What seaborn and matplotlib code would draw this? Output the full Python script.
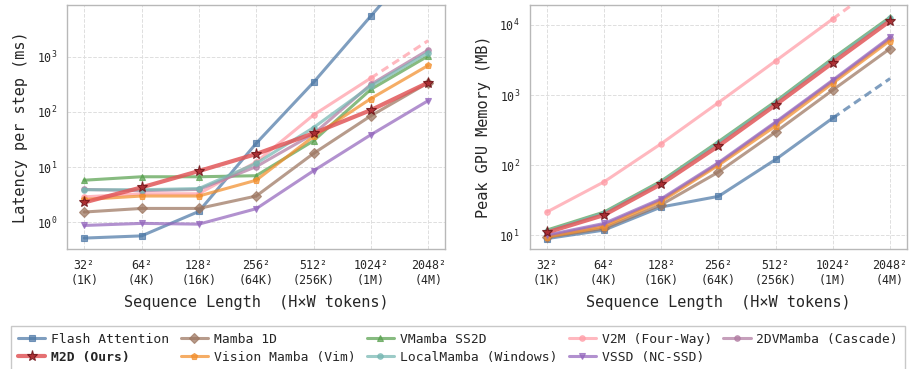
import numpy as np
import pandas as pd
import matplotlib
matplotlib.use("Agg")
import matplotlib.pyplot as plt
import seaborn as sns

# sequence lengths (H = W)
seq_labels = ["32²\n(1K)", "64²\n(4K)", "128²\n(16K)", "256²\n(64K)",
              "512²\n(256K)", "1024²\n(1M)", "2048²\n(4M)"]
xs = list(range(len(seq_labels)))

methods = ["Flash Attention", "Mamba 1D", "VMamba SS2D", "V2M (Four-Way)",
           "2DVMamba (Cascade)", "Vision Mamba (Vim)", "LocalMamba (Windows)",
           "VSSD (NC-SSD)", "M2D (Ours)"]

# latency per step (ms)
lat_flash = [0.52, 0.57, 1.58, 27, 343, 5450, 85000]
lat_mamba1d = [1.54, 1.79, 1.79, 3.0, 17.7, 85, 338]
lat_vmamba = [5.8, 6.7, 6.7, 7.0, 30, 256, 1030]
lat_v2m = [2.9, 3.3, 3.3, 12.4, 88, 410]
lat_2dvmamba = [3.95, 3.75, 3.95, 10.2, 40, 315, 1320]
lat_vim = [2.6, 3.0, 3.0, 5.8, 36, 174, 695]
lat_local = [3.9, 3.9, 4.1, 11.7, 52, 295, 1180]
lat_vssd = [0.88, 0.96, 0.93, 1.77, 8.6, 38.6, 160]
lat_m2d = [2.3, 4.3, 8.5, 17.3, 41, 108, 340]
lat_extrap = {"V2M (Four-Way)": 1950}

# peak GPU memory (MB)
mem_flash = [9.0, 11.9, 25.4, 36, 121, 472]
mem_mamba1d = [9.4, 12.6, 27.4, 80, 298, 1183, 4600]
mem_vmamba = [11.9, 21.5, 59.6, 217, 814, 3350, 12900]
mem_v2m = [21.5, 58, 203, 781, 3070, 12200]
mem_2dvmamba = [9.8, 14.2, 32, 105, 400, 1580, 6400]
mem_vim = [9.5, 13.3, 30.5, 100, 363, 1480, 5980]
mem_local = [11.5, 21, 58, 210, 790, 3250, 12500]
mem_vssd = [10.1, 14.8, 33.3, 109, 414, 1640, 6680]
mem_m2d = [11.0, 19.5, 54, 188, 725, 2900, 11400]
mem_extrap = {"Flash Attention": 1720, "V2M (Four-Way)": 48000}

latency = [lat_flash, lat_mamba1d, lat_vmamba, lat_v2m, lat_2dvmamba,
           lat_vim, lat_local, lat_vssd, lat_m2d]
memory = [mem_flash, mem_mamba1d, mem_vmamba, mem_v2m, mem_2dvmamba,
          mem_vim, mem_local, mem_vssd, mem_m2d]

colors = ["#4e79a7", "#9c755f", "#59a14f", "#ff9da7", "#b07aa1",
          "#f28e2b", "#76b7b2", "#9467bd", "#e15759"]
markers = ["s", "D", "^", "o", "o", "p", "o", "v", "*"]

sns.set_theme(style="whitegrid")
plt.rcParams["font.family"] = ["DejaVu Sans Mono", "DejaVu Sans"]
plt.rcParams["axes.edgecolor"] = "#b8b8b8"
plt.rcParams["grid.color"] = "#dedede"
plt.rcParams["grid.linestyle"] = "--"
plt.rcParams["grid.linewidth"] = 0.7

fig = plt.figure(figsize=(9.09, 3.69), dpi=100)
ax1 = fig.add_axes([0.0737, 0.3252, 0.4163, 0.6604])
ax2 = fig.add_axes([0.5827, 0.3252, 0.4154, 0.6604])


def draw(ax, series, extrap):
    for name, vals, c, m in zip(methods, series, colors, markers):
        ours = name == "M2D (Ours)"
        lw = 3.0 if ours else 2.2
        ms = 8 if ours else (4 if m == "o" else 5)
        mfc = "#a3262b" if ours else c
        mec = "#6e1418" if ours else c
        alpha = 0.85 if ours else 0.72
        z = 6 if ours else 3
        sns.lineplot(x=xs[:len(vals)], y=vals, ax=ax, color=c, marker=m,
                     markersize=ms, markerfacecolor=mfc, markeredgecolor=mec,
                     markeredgewidth=0.8, linewidth=lw, alpha=alpha,
                     label=name, legend=False, zorder=z)
        if name in extrap:
            i = len(vals) - 1
            sns.lineplot(x=[xs[i], xs[i + 1]], y=[vals[i], extrap[name]],
                         ax=ax, color=c, linewidth=lw, alpha=alpha,
                         linestyle=(0, (2.6, 1.6)), legend=False, zorder=z)
    ax.set_yscale("log")
    ax.set_xlim(-0.3, 6.3)
    ax.set_xticks(xs)
    ax.set_xticklabels(seq_labels)
    ax.tick_params(axis="both", labelsize=8.4, pad=7, length=0)
    ax.set_xlabel("Sequence Length  (H×W tokens)", fontsize=11, labelpad=6)
    ax.grid(True, which="major")
    ax.grid(False, which="minor")
    for s in ax.spines.values():
        s.set_color("#b8b8b8")
        s.set_linewidth(1.0)


draw(ax1, latency, lat_extrap)
ax1.set_ylim(0.33, 8500)
ax1.set_ylabel("Latency per step (ms)", fontsize=11, labelpad=6)

draw(ax2, memory, mem_extrap)
ax2.set_ylim(6.4, 19000)
ax2.set_ylabel("Peak GPU Memory (MB)", fontsize=11, labelpad=6)

handles, labels = ax1.get_legend_handles_labels()
lookup = dict(zip(labels, handles))
order = ["Flash Attention", "M2D (Ours)", "Mamba 1D", "Vision Mamba (Vim)",
         "VMamba SS2D", "LocalMamba (Windows)", "V2M (Four-Way)",
         "VSSD (NC-SSD)", "2DVMamba (Cascade)"]
leg = fig.legend([lookup[k] for k in order], order, loc="upper center",
                 bbox_to_anchor=(0.504, 0.133), ncol=5, fontsize=9.4,
                 frameon=True, fancybox=False, edgecolor="#c8c8c8",
                 framealpha=1, columnspacing=0.85, handlelength=2.1,
                 handletextpad=0.45, borderpad=0.5, labelspacing=0.35)
for t in leg.get_texts():
    if t.get_text() == "M2D (Ours)":
        t.set_fontweight("bold")

fig.savefig("out.png", dpi=100)
